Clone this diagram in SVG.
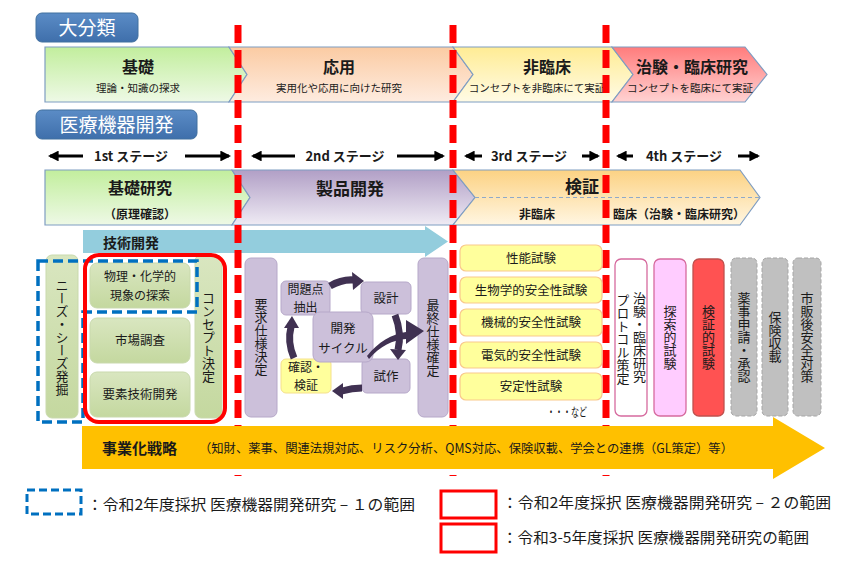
<svg xmlns="http://www.w3.org/2000/svg" width="851" height="562" viewBox="0 0 851 562">
<defs>
  <linearGradient id="gGreen" x1="0" y1="0" x2="0" y2="1"><stop offset="0" stop-color="#c2ee9d"/><stop offset="1" stop-color="#eef9e6"/></linearGradient>
  <linearGradient id="gPeach" x1="0" y1="0" x2="0" y2="1"><stop offset="0" stop-color="#fbcba3"/><stop offset="1" stop-color="#feece0"/></linearGradient>
  <linearGradient id="gYel" x1="0" y1="0" x2="0" y2="1"><stop offset="0" stop-color="#ffec94"/><stop offset="1" stop-color="#fffbe6"/></linearGradient>
  <linearGradient id="gPink" x1="0" y1="0" x2="0" y2="1"><stop offset="0" stop-color="#ff7c7c"/><stop offset="1" stop-color="#ffd2d2"/></linearGradient>
  <linearGradient id="gPurple" x1="0" y1="0" x2="0" y2="1"><stop offset="0" stop-color="#b19fc6"/><stop offset="1" stop-color="#efebf4"/></linearGradient>
  <linearGradient id="gOrange" x1="0" y1="0" x2="0" y2="1"><stop offset="0" stop-color="#fcd283"/><stop offset="1" stop-color="#fff6e2"/></linearGradient>
  <linearGradient id="gHead" x1="0" y1="0" x2="0" y2="1"><stop offset="0" stop-color="#5b8cc6"/><stop offset="1" stop-color="#3f6fab"/></linearGradient>
  <linearGradient id="gLeaf" x1="0" y1="0" x2="0" y2="1"><stop offset="0" stop-color="#d9e6c0"/><stop offset="1" stop-color="#c4d89f"/></linearGradient>
  <marker id="ah" viewBox="0 0 10 10" refX="8" refY="5" markerWidth="3.6" markerHeight="3.6" orient="auto">
    <path d="M0,0 L10,5 L0,10 Z" fill="#000"/>
  </marker>
</defs>
<style>
  text { font-family: "Noto Sans CJK JP", "Noto Sans", sans-serif; fill: #1a1a1a; }
  .chev { stroke: #7f9dc2; stroke-width: 1.2; }
  .hdr { fill: url(#gHead); stroke: #41709f; stroke-width: 1; }
  .hdrT { fill: #ffffff; font-size: 19px; text-anchor: middle; }
  .big { font-size: 16px; font-weight: bold; text-anchor: middle; }
  .sub { font-size: 10.5px; text-anchor: middle; }
  .stg { font-size: 13px; font-weight: bold; text-anchor: middle; }
  .stgL { stroke: #000; stroke-width: 3; fill: none; marker-end: url(#ah); }
  .redL { stroke: #ff0000; stroke-width: 7; stroke-dasharray: 18 7; fill: none; }
  .leaf { fill: url(#gLeaf); stroke: #c9d9ad; stroke-width: 1; }
  .lav { fill: #ccc0da; stroke: #b6a8c9; stroke-width: 1; }
  .test { fill: #ffff9c; stroke: #f9c98c; stroke-width: 1.2; }
  .vt { writing-mode: vertical-rl; text-anchor: middle; font-size: 13px; }
  .bt { font-size: 12.5px; text-anchor: middle; }
  .ct { font-size: 12px; text-anchor: middle; }
  .tt { font-size: 12.5px; text-anchor: middle; }
  .cyc { fill: #403152; }
  .cycL { stroke: #403152; stroke-width: 7; fill: none; }
  .gray { fill: #c0c0c0; stroke: #a6a6a6; stroke-width: 1; stroke-dasharray: 4 2; }
  .leg { font-size: 15px; }
</style>

<!-- Top category row -->
<g id="hdr-daibunrui">
  <rect class="hdr" x="36" y="13" width="102" height="29" rx="6"/>
  <text class="hdrT" x="87" y="34.5">大分類</text>
</g>
<g id="cat-kiso">
  <path class="chev" fill="url(#gGreen)" d="M45,47 H229 L247,74.5 L229,102 H45 Z"/>
  <text class="big" x="138" y="73">基礎</text>
  <text class="sub" x="138" y="92">理論・知識の探求</text>
</g>
<g id="cat-oyo">
  <path class="chev" fill="url(#gPeach)" d="M229,47 H453 L473,74.5 L453,102 H229 L247,74.5 Z"/>
  <text class="big" x="339" y="73">応用</text>
  <text class="sub" x="339" y="92">実用化や応用に向けた研究</text>
</g>
<g id="cat-hirinsho">
  <path class="chev" fill="url(#gYel)" d="M453,47 H612 L633,74.5 L612,102 H453 L473,74.5 Z"/>
  <text class="big" x="547" y="73">非臨床</text>
  <text class="sub" x="537" y="92">コンセプトを非臨床にて実証</text>
</g>
<g id="cat-chiken">
  <path class="chev" fill="url(#gPink)" d="M612,47 H745 L767,74.5 L745,102 H612 L633,74.5 Z"/>
  <text class="big" x="692" y="73">治験・臨床研究</text>
  <text class="sub" x="690" y="92">コンセプトを臨床にて実証</text>
</g>

<g id="hdr-iryo">
  <rect class="hdr" x="36" y="110" width="161" height="29" rx="6"/>
  <text class="hdrT" x="116.5" y="131.5">医療機器開発</text>
</g>

<!-- Stage arrows -->
<g id="stages">
  <line class="stgL" x1="83" y1="156" x2="50" y2="156"/>
  <text class="stg" x="131" y="161">1st ステージ</text>
  <line class="stgL" x1="185" y1="156" x2="229" y2="156"/>
  <line class="stgL" x1="295" y1="156" x2="253" y2="156"/>
  <text class="stg" x="345" y="161">2nd ステージ</text>
  <line class="stgL" x1="397" y1="156" x2="443" y2="156"/>
  <line class="stgL" x1="482" y1="156" x2="466" y2="156"/>
  <text class="stg" x="529" y="161">3rd ステージ</text>
  <line class="stgL" x1="582" y1="156" x2="598" y2="156"/>
  <line class="stgL" x1="633" y1="156" x2="618" y2="156"/>
  <text class="stg" x="684" y="161">4th ステージ</text>
  <line class="stgL" x1="738" y1="156" x2="758" y2="156"/>
</g>

<!-- Second row -->
<g id="ph-kisokenkyu">
  <path class="chev" fill="url(#gGreen)" d="M45,170 H232 L250,197.5 L232,225 H45 Z"/>
  <text class="big" x="140" y="194">基礎研究</text>
  <text x="140" y="219" font-size="12" font-weight="bold" text-anchor="middle">（原理確認）</text>
</g>
<g id="ph-seihin">
  <path class="chev" fill="url(#gPurple)" d="M232,170 H453 L475,197.5 L453,225 H232 L250,197.5 Z"/>
  <text x="350" y="195" font-size="17" font-weight="bold" text-anchor="middle">製品開発</text>
</g>
<g id="ph-kensho">
  <path class="chev" fill="url(#gOrange)" d="M453,170 H740 L760,197.5 L740,225 H453 L475,197.5 Z"/>
  <line x1="475" y1="197.5" x2="759" y2="197.5" stroke="#8fa9c9" stroke-width="1" stroke-dasharray="4 3"/>
  <text x="582" y="193" font-size="17" font-weight="bold" text-anchor="middle">検証</text>
  <text x="537" y="219" font-size="12" font-weight="bold" text-anchor="middle">非臨床</text>
  <text x="613" y="219" font-size="12" font-weight="bold">臨床（治験・臨床研究）</text>
</g>

<!-- 技術開発 arrow -->
<g id="gijutsu">
  <path d="M83,230 H425 V226 L448,241.5 L425,257 V253 H83 Z" fill="#93cddd"/>
  <text x="103" y="247.5" font-size="14" font-weight="bold">技術開発</text>
</g>

<!-- Red dashed stage dividers -->
<g id="dividers">
  <line class="redL" x1="238" y1="25" x2="238" y2="476"/>
  <line class="redL" x1="453" y1="25" x2="453" y2="476"/>
  <line class="redL" x1="606" y1="25" x2="606" y2="476"/>
</g>

<!-- Stage 1 boxes -->
<g id="needs">
  <rect class="leaf" x="46" y="255" width="32" height="163" rx="6"/>
  <text class="vt" x="62" y="337" font-size="12.5">ニーズ・シーズ発掘</text>
</g>
<g id="butsuri">
  <rect class="leaf" x="90" y="263" width="100" height="45" rx="7"/>
  <text class="ct" x="140" y="281">物理・化学的</text>
  <text class="ct" x="140" y="299.5">現象の探索</text>
</g>
<g id="shijo">
  <rect class="leaf" x="90" y="318" width="100" height="45" rx="7"/>
  <text class="bt" x="140" y="345">市場調査</text>
</g>
<g id="yoso">
  <rect class="leaf" x="90" y="372" width="100" height="45" rx="7"/>
  <text class="bt" x="140" y="399">要素技術開発</text>
</g>
<g id="concept">
  <rect class="leaf" x="195" y="255" width="27" height="163" rx="6"/>
  <text class="vt" x="208.5" y="337" font-size="12.5">コンセプト決定</text>
</g>

<!-- Stage 2 boxes -->
<g id="yokyu">
  <rect class="lav" x="245" y="258" width="32" height="159" rx="6"/>
  <text class="vt" x="261" y="337" font-size="13.5">要求仕様決定</text>
</g>
<g id="saishu">
  <rect class="lav" x="418" y="258" width="30" height="159" rx="6"/>
  <text class="vt" x="433" y="338" font-size="13.5">最終仕様確定</text>
</g>
<g id="mondai">
  <rect class="lav" x="281" y="281" width="49" height="34" rx="5"/>
  <text class="ct" x="305.5" y="294">問題点</text>
  <text class="ct" x="305.5" y="311.5">抽出</text>
</g>
<g id="sekkei">
  <rect class="lav" x="361" y="282" width="50" height="32" rx="5"/>
  <text class="bt" x="386" y="302.5">設計</text>
</g>
<g id="kakunin">
  <rect x="281" y="359" width="50" height="34" rx="5" fill="#ffff9c" stroke="#f5e08c" stroke-width="1"/>
  <text class="ct" x="306" y="372">確認・</text>
  <text class="ct" x="306" y="389.5">検証</text>
</g>
<g id="shisaku">
  <rect class="lav" x="362" y="359" width="48" height="34" rx="5"/>
  <text class="bt" x="386" y="380.5">試作</text>
</g>
<g id="cycle">
  <rect class="lav" x="313" y="312" width="60" height="50" rx="7"/>
  <text class="bt" x="343" y="333">開発</text>
  <text class="bt" x="343" y="352.5">サイクル</text>
</g>

<!-- Stage 3 tests -->
<g id="t1"><rect class="test" x="460" y="245" width="142" height="26" rx="6"/><text class="tt" x="531" y="262.5">性能試験</text></g>
<g id="t2"><rect class="test" x="460" y="277" width="142" height="26" rx="6"/><text class="tt" x="531" y="294.5">生物学的安全性試験</text></g>
<g id="t3"><rect class="test" x="460" y="309" width="142" height="27" rx="6"/><text class="tt" x="531" y="327">機械的安全性試験</text></g>
<g id="t4"><rect class="test" x="460" y="342" width="142" height="26" rx="6"/><text class="tt" x="531" y="359.5">電気的安全性試験</text></g>
<g id="t5"><rect class="test" x="460" y="373" width="142" height="27" rx="6"/><text class="tt" x="531" y="391">安定性試験</text></g>
<text x="567" y="417" font-size="12" text-anchor="middle" textLength="40" lengthAdjust="spacingAndGlyphs">・・・など</text>

<!-- Stage 4 columns -->
<g id="protocol">
  <rect x="615" y="259" width="32" height="157" rx="6" fill="#ffffff" stroke="#d66a9e" stroke-width="1.3"/>
  <text class="vt" x="639.5" y="337" font-size="12.5">治験・臨床研究</text>
  <text class="vt" x="623" y="339" font-size="12">プロトコル策定</text>
</g>
<g id="tansaku">
  <rect x="654" y="259" width="32" height="157" rx="6" fill="#ffccff" stroke="#d66a9e" stroke-width="1.3"/>
  <text class="vt" x="670" y="337" font-size="14">探索的試験</text>
</g>
<g id="kenshoteki">
  <rect x="693" y="259" width="31" height="157" rx="6" fill="#ff5252" stroke="#c0504d" stroke-width="1.3"/>
  <text class="vt" x="708.5" y="337" font-size="14">検証的試験</text>
</g>
<g id="yakuji">
  <rect class="gray" x="731" y="258" width="26" height="158" rx="5"/>
  <text class="vt" x="744" y="337" font-size="12.5">薬事申請・承認</text>
</g>
<g id="hoken">
  <rect class="gray" x="762" y="258" width="26" height="158" rx="5"/>
  <text class="vt" x="775" y="337" font-size="13">保険収載</text>
</g>
<g id="shihan">
  <rect class="gray" x="793" y="258" width="28" height="158" rx="5"/>
  <text class="vt" x="807" y="337" font-size="13">市販後安全対策</text>
</g>

<!-- Connectors (cycle arrows) -->
<g id="connectors">
  <path class="cycL" d="M330,286 Q342,279 354,280"/>
  <path class="cyc" d="M352,272 L364,281 L353,290 Z"/>
  <path class="cycL" d="M395,315 Q402,333 398,350"/>
  <path class="cyc" d="M390,349 L406,350 L398,360 Z"/>
  <path class="cycL" d="M362,388 Q352,388 342,391"/>
  <path class="cyc" d="M343,383 L343,399 L332,391 Z"/>
  <path class="cycL" d="M294,358 Q287,342 291,327"/>
  <path class="cyc" d="M284,328 L299,328 L292,316 Z"/>
  <path class="cyc" d="M367,356 C378,342 392,334 406,332 L406,320 L424,331 L406,344 L406,339 C393,340 380,346 369,359 Z"/>
</g>

<!-- Range outlines -->
<g id="range-blue">
  <path d="M38,261 H197 V312 H83 V422 H38 Z" fill="none" stroke="#0070c0" stroke-width="3.5" stroke-dasharray="10 5"/>
</g>
<g id="range-red">
  <rect x="85" y="255" width="140" height="167" rx="14" fill="none" stroke="#ff0000" stroke-width="4"/>
</g>

<!-- Business strategy arrow -->
<g id="jigyo">
  <path d="M82,426 H773 V417 L825,448 L773,479 V469 H82 Z" fill="#ffc000"/>
  <text x="102" y="453.5" font-size="15" font-weight="bold">事業化戦略</text>
  <text x="199" y="453" font-size="12.5" textLength="534" lengthAdjust="spacingAndGlyphs">（知財、薬事、関連法規対応、リスク分析、QMS対応、保険収載、学会との連携（GL策定）等）</text>
</g>

<!-- Legend -->
<g id="legend">
  <rect x="27" y="490" width="54" height="24" fill="none" stroke="#0070c0" stroke-width="3" stroke-dasharray="8 4"/>
  <text class="leg" x="87" y="510" textLength="328" lengthAdjust="spacingAndGlyphs">：令和2年度採択 医療機器開発研究 – １の範囲</text>
  <rect x="441" y="491" width="55" height="27" fill="none" stroke="#ff0000" stroke-width="3"/>
  <text class="leg" x="502" y="508" textLength="329" lengthAdjust="spacingAndGlyphs">：令和2年度採択 医療機器開発研究 – ２の範囲</text>
  <rect x="441" y="524" width="55" height="28" fill="none" stroke="#ff0000" stroke-width="3"/>
  <text class="leg" x="502" y="543" textLength="307" lengthAdjust="spacingAndGlyphs">：令和3-5年度採択 医療機器開発研究の範囲</text>
</g>
</svg>
